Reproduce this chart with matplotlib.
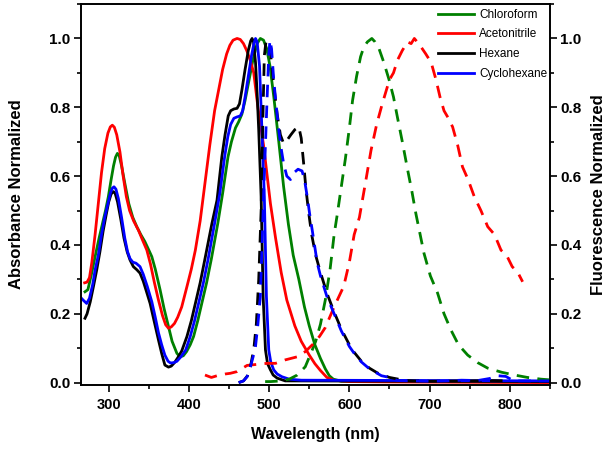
import matplotlib
matplotlib.use("Agg")
import matplotlib.pyplot as plt
from matplotlib.ticker import MultipleLocator
from matplotlib.lines import Line2D

plt.rcParams['font.family'] = ['Liberation Sans', 'DejaVu Sans']

# ---------------- Absorbance (solid) ----------------
abs_chl_x = [270.4, 274, 278, 283, 288, 292, 296, 299.5, 303, 306, 308.5, 310.8, 313, 316, 320, 325, 330, 335, 340, 345, 350, 353.7,
             358, 364, 369, 374.5, 379, 385, 389, 393, 397, 401.6, 405.8, 411, 416, 422, 428, 436, 442, 448.7, 453, 458, 462, 466,
             470, 475, 480, 485, 489, 493, 497, 501, 505.8, 512, 518, 524, 530, 537, 544, 550, 557, 564, 570, 575, 580, 590, 850]
abs_chl_y = [0.264, 0.27, 0.31, 0.366, 0.42, 0.46, 0.5, 0.54, 0.59, 0.63, 0.655, 0.666, 0.66, 0.63, 0.58, 0.52, 0.48, 0.453, 0.43, 0.41, 0.385, 0.366,
             0.33, 0.27, 0.215, 0.163, 0.12, 0.085, 0.075, 0.078, 0.09, 0.11, 0.134, 0.18, 0.23, 0.29, 0.36, 0.463, 0.55, 0.656, 0.7, 0.74, 0.758, 0.78,
             0.82, 0.88, 0.94, 0.985, 1.0, 0.995, 0.97, 0.92, 0.83, 0.7, 0.57, 0.46, 0.37, 0.3, 0.22, 0.165, 0.11, 0.07, 0.04, 0.02, 0.01, 0.004, 0.002]

abs_ace_x = [270, 273, 276, 279, 283, 287, 291, 295, 299, 302, 304.5, 307, 310, 314, 318, 322, 326, 331, 337, 342, 347.5, 352, 357, 362,
             367, 371, 374.5, 378, 382, 386, 391, 397.5, 403, 408, 414, 420, 426, 432, 437, 442, 447, 451, 455, 460, 464, 468, 472, 476,
             480.8, 486, 493, 501.6, 508, 515, 522, 532, 540, 550, 557, 564, 572, 580, 600, 650, 850]
abs_ace_y = [0.29, 0.292, 0.305, 0.35, 0.43, 0.52, 0.61, 0.68, 0.725, 0.743, 0.748, 0.742, 0.72, 0.67, 0.6, 0.54, 0.5, 0.47, 0.443, 0.415, 0.385, 0.345, 0.29, 0.24,
             0.195, 0.168, 0.158, 0.162, 0.172, 0.19, 0.22, 0.279, 0.33, 0.385, 0.47, 0.58, 0.69, 0.79, 0.85, 0.91, 0.955, 0.98, 0.995, 1.0, 0.997, 0.985, 0.965, 0.94,
             0.9, 0.8, 0.69, 0.52, 0.42, 0.32, 0.24, 0.165, 0.12, 0.08, 0.055, 0.035, 0.015, 0.007, 0.003, 0.002, 0.0]

abs_hex_x = [270.4, 273, 277, 281, 285, 289, 293, 297, 300, 303, 305.8, 308, 311, 315, 319, 323, 326.6, 330.7, 335, 339, 343, 347, 351.6,
             356, 362, 366, 370, 374.5, 378, 382, 386, 391, 397.5, 403, 408, 414, 420, 428.7, 435, 441, 445, 449, 452, 456, 460, 463,
             466, 470, 474, 477, 478.7, 480.5, 483, 485, 487, 490, 492.5, 495.4, 498, 501.6, 505, 510, 520, 850]
abs_hex_y = [0.187, 0.2, 0.235, 0.28, 0.327, 0.38, 0.44, 0.49, 0.525, 0.548, 0.555, 0.55, 0.525, 0.475, 0.42, 0.38, 0.356, 0.337, 0.328, 0.318, 0.295, 0.265, 0.23,
             0.185, 0.124, 0.085, 0.051, 0.045, 0.048, 0.058, 0.072, 0.092, 0.134, 0.18, 0.23, 0.29, 0.36, 0.463, 0.53, 0.656, 0.72, 0.775, 0.79, 0.795, 0.797, 0.81,
             0.85, 0.91, 0.965, 0.993, 1.0, 0.99, 0.93, 0.84, 0.734, 0.54, 0.25, 0.095, 0.055, 0.037, 0.022, 0.013, 0.005, 0.003]

abs_cyc_x = [264, 268, 272.5, 276, 280, 283, 287, 291, 295, 299, 302, 304.5, 306.6, 309, 312, 316, 320, 323.5, 326.6, 330, 334, 339, 343,
             348, 353.7, 358, 362, 366, 370, 374, 377, 381, 385, 390, 396, 401.6, 407, 412, 418, 424, 432, 438.5, 444.5, 448.5, 452, 456,
             460, 464, 467, 470, 474, 478, 481, 483, 485, 488, 491, 494, 496.6, 499.5, 502, 505.7, 510, 516, 525, 540, 850]
abs_cyc_y = [0.25, 0.24, 0.23, 0.245, 0.285, 0.327, 0.37, 0.43, 0.48, 0.52, 0.55, 0.565, 0.569, 0.562, 0.535, 0.48, 0.42, 0.38, 0.36, 0.35, 0.347, 0.337, 0.315,
             0.28, 0.235, 0.19, 0.145, 0.11, 0.08, 0.062, 0.057, 0.058, 0.062, 0.075, 0.095, 0.134, 0.18, 0.23, 0.29, 0.36, 0.463, 0.55, 0.656, 0.715, 0.75, 0.768,
             0.772, 0.775, 0.79, 0.83, 0.89, 0.95, 0.985, 1.0, 0.99, 0.92, 0.734, 0.54, 0.25, 0.095, 0.06, 0.037, 0.025, 0.017, 0.01, 0.007, 0.005]

# ---------------- Fluorescence (dashed) ----------------
fl_chl_x = [495, 502, 515, 525, 535, 545, 552, 558, 564, 570, 576, 581, 585, 590, 595, 600, 604, 609, 614, 618, 622.5, 628, 632, 637, 643,
            649.5, 655, 660, 666, 672.5, 678, 683, 693, 701, 710, 718, 726.6, 736, 747.5, 760, 772.5, 790, 806, 822, 839, 850]
fl_chl_y = [0.003, 0.003, 0.005, 0.01, 0.022, 0.046, 0.085, 0.12, 0.17, 0.24, 0.33, 0.43, 0.49, 0.57, 0.65, 0.74, 0.82, 0.89, 0.947, 0.975, 0.99, 1.0, 0.99, 0.97, 0.93,
            0.88, 0.83, 0.77, 0.7, 0.62, 0.555, 0.49, 0.376, 0.31, 0.26, 0.2, 0.153, 0.11, 0.08, 0.058, 0.042, 0.03, 0.022, 0.015, 0.01, 0.008]

fl_ace_x = [420, 428, 435, 445, 451.5, 460, 472.5, 485, 497.5, 508, 520, 535, 545, 555.7, 563, 570, 581, 593, 600, 606, 612.5, 620, 627, 634, 641, 650,
            655, 660, 666, 672.5, 677, 681, 688, 695, 702, 708, 713, 718, 723, 728.7, 735, 741, 748, 755.8, 764, 772.5, 781, 789, 796, 803, 810, 816]
fl_ace_y = [0.022, 0.015, 0.02, 0.025, 0.027, 0.032, 0.05, 0.053, 0.056, 0.056, 0.066, 0.075, 0.09, 0.114, 0.135, 0.16, 0.22, 0.28, 0.35, 0.43, 0.48, 0.58, 0.675, 0.75, 0.81, 0.88,
            0.9, 0.937, 0.965, 0.99, 0.985, 1.0, 0.98, 0.956, 0.93, 0.88, 0.83, 0.79, 0.77, 0.743, 0.69, 0.627, 0.59, 0.54, 0.5, 0.453, 0.43, 0.385, 0.37, 0.337, 0.32, 0.293]

fl_hex_x = [462, 468, 473, 477, 481, 484, 487, 490, 492, 494, 496, 499, 502, 506, 510, 514, 518, 522.5, 527, 532, 537, 540, 543, 546, 549.5,
            553, 558, 564, 572, 581, 590, 600, 606, 615, 625, 635, 650, 670, 700, 740, 780, 800]
fl_hex_y = [0.0, 0.005, 0.02, 0.05, 0.1, 0.17, 0.3, 0.5, 0.75, 0.95, 0.99, 0.99, 0.95, 0.86, 0.78, 0.72, 0.695, 0.705, 0.72, 0.735, 0.743, 0.71, 0.637, 0.56, 0.49,
            0.43, 0.37, 0.32, 0.26, 0.205, 0.155, 0.11, 0.088, 0.062, 0.042, 0.028, 0.015, 0.006, 0.004, 0.005, 0.006, 0.005]

fl_cyc_x = [462, 468, 472.5, 476, 480, 483, 486, 489, 491, 493, 495.5, 497.5, 499.5, 501, 503, 505.7, 509, 512, 515, 518, 522, 526.6, 531, 536,
            541, 544, 547.5, 550.5, 553.7, 560, 564, 572, 581, 590, 600, 606, 615, 625, 631, 640, 650, 660, 680, 700, 720, 740, 760, 775, 785,
            795, 805, 850]
fl_cyc_y = [0.0, 0.005, 0.017, 0.04, 0.075, 0.105, 0.17, 0.25, 0.385, 0.54, 0.7, 0.83, 0.95, 0.995, 0.97, 0.88, 0.8, 0.734, 0.68, 0.637, 0.6, 0.59, 0.61, 0.62,
            0.615, 0.59, 0.54, 0.49, 0.443, 0.347, 0.31, 0.25, 0.2, 0.15, 0.105, 0.085, 0.06, 0.04, 0.032, 0.02, 0.015, 0.006, 0.005, 0.004, 0.005, 0.007, 0.006, 0.012, 0.02,
            0.018, 0.005, 0.005]

solvents = ['Chloroform', 'Acetonitrile', 'Hexane', 'Cyclohexane']
colors = ['#008000', '#ff0000', '#000000', '#0000ff']

fig = plt.figure(figsize=(6.11, 4.49), dpi=100)
ax = fig.add_axes([0.132, 0.1425, 0.768, 0.8485])
ax2 = ax.twinx()

abs_data = [(abs_chl_x, abs_chl_y), (abs_ace_x, abs_ace_y), (abs_hex_x, abs_hex_y), (abs_cyc_x, abs_cyc_y)]
fl_data = [(fl_chl_x, fl_chl_y), (fl_ace_x, fl_ace_y), (fl_hex_x, fl_hex_y), (fl_cyc_x, fl_cyc_y)]

for (x, y), c in zip(abs_data, colors):
    ax.plot(x, y, color=c, lw=2.0, solid_joinstyle='round')
for (x, y), c in zip(fl_data, colors):
    ax2.plot(x, y, color=c, lw=2.0, linestyle=(0, (4.5, 3)))

ticks_y = [0.0, 0.2, 0.4, 0.6, 0.8, 1.0]
ticklab_y = ['0.0', '0.2', '0.4', '0.6', '0.8', '1.0']
for a in (ax, ax2):
    a.set_xlim(265, 850)
    a.set_ylim(-0.007, 1.1)
    a.yaxis.set_minor_locator(MultipleLocator(0.1))
    a.tick_params(which='major', direction='out', length=5, width=1.2)
    a.tick_params(which='minor', direction='out', length=3, width=1.2)
    a.tick_params(axis='y', pad=2.5)
    for s in a.spines.values():
        s.set_linewidth(1.2)
    a.set_yticks(ticks_y)
    a.set_yticklabels(ticklab_y, fontweight='bold', fontsize=11)

ax.xaxis.set_minor_locator(MultipleLocator(50))
ax.set_xticks([300, 400, 500, 600, 700, 800])
ax.set_xticklabels(['300', '400', '500', '600', '700', '800'], fontweight='bold', fontsize=10.5)
ax.tick_params(axis='x', pad=4.5)

ax.set_xlabel('Wavelength (nm)', fontweight='bold', fontsize=11.5, labelpad=11)
ax.set_ylabel('Absorbance Normalized', fontweight='bold', fontsize=12, labelpad=18)
ax2.set_ylabel('Fluorescence Normalized', fontweight='bold', fontsize=12, labelpad=7)

handles = [Line2D([0], [0], color=c, lw=2) for c in colors]
leg = ax2.legend(handles, solvents, loc='upper right', frameon=False, fontsize=8.5,
                 handlelength=3.1, handletextpad=0.4, labelspacing=0.65,
                 borderaxespad=0.0, bbox_to_anchor=(1.004, 1.0))

fig.savefig('out.png', dpi=100)
